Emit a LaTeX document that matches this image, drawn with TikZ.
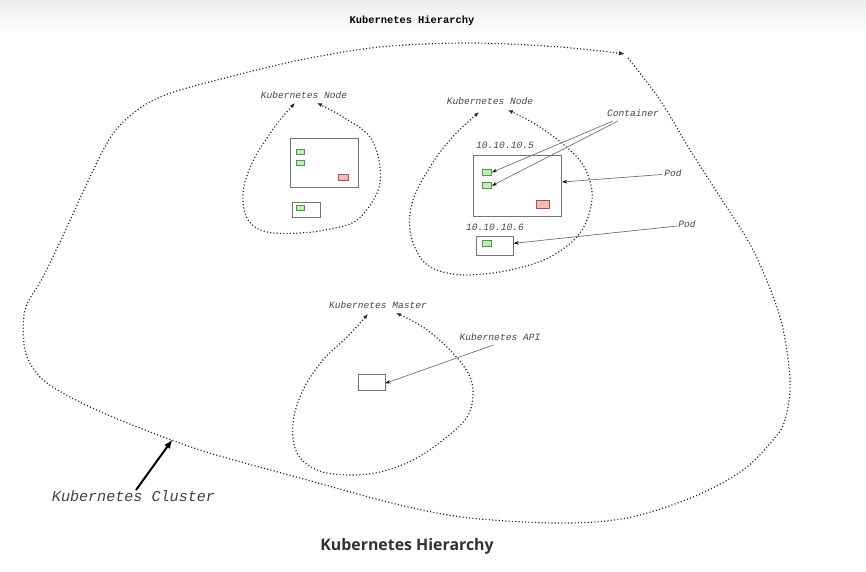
\documentclass[tikz,border=0pt]{standalone}
\usepackage{fontspec}
\setmainfont{Liberation Mono}
\newfontfamily\capfont{Open Sans}
\usetikzlibrary{arrows.meta}
\definecolor{ctrfill}{RGB}{186,240,178}
\definecolor{ctrdraw}{RGB}{90,140,90}
\definecolor{redfill}{RGB}{245,186,186}
\definecolor{reddraw}{RGB}{150,90,90}
\definecolor{capcol}{RGB}{45,50,56}
\begin{document}
\begin{tikzpicture}[x=1pt,y=-1pt,
  lbl/.style={font=\fontsize{9.6}{11}\selectfont\itshape, text=black!72, inner sep=0pt},
  podbox/.style={draw=black!55, line width=0.8pt, inner sep=0pt, fill=white},
  ctr/.style={draw=ctrdraw, fill=ctrfill, line width=0.6pt, inner sep=0pt, minimum width=8.5pt, minimum height=5.6pt},
  ctrred/.style={draw=reddraw, fill=redfill, line width=0.6pt, inner sep=0pt},
  loopline/.style={line width=1.2pt, dash pattern=on 1.1pt off 2.2pt, draw=black!85},
  looptips/.style={{Latex[length=5pt,width=4pt]}-{Latex[length=5pt,width=4pt]}},
  pointer/.style={draw=black!55, line width=0.7pt, -{Stealth[length=5pt,width=3.6pt,color=black]}},
]
\useasboundingbox (0,0) rectangle (866,571);
\shade[top color=black!7, bottom color=white] (0,0) rectangle (866,34);

% titles
\node[font=\fontsize{10.4}{12}\selectfont\bfseries, inner sep=0pt] (title) at (412,21) {Kubernetes Hierarchy};
\node[font=\capfont\fontsize{15.9}{18}\selectfont\bfseries, text=capcol, inner sep=0pt] (caption) at (407,546) {Kubernetes Hierarchy};

% cluster loop
\draw[loopline, -{Latex[length=6pt,width=4.5pt]}] plot[smooth, tension=0.55] coordinates {
 (628,58) (660,100) (690,150) (722,200) (753,250) (780,317) (790,380) (785,420) (773,440) (743,470)
 (693,497) (627,518) (560,523) (470,518) (400,505) (300,478) (200,450) (120,420) (70,397)
 (40,377) (25,350) (25,310) (43,277) (67,227) (90,177) (112,135) (136,111) (165,95) (217,80)
 (300,60) (380,47) (470,43) (560,47) (625,54)};

% node 1
\node[lbl] (n1lbl) at (304,95) {Kubernetes Node};
\draw[loopline, looptips] plot[smooth, tension=0.6] coordinates {
 (295,103) (280,120) (267,138) (252,163) (243,193) (248,220) (267,232) (300,233) (330,229)
 (357,220) (377,193) (380,167) (370,137) (343,117) (317,103)};
\node[podbox, minimum width=68pt, minimum height=49pt] (n1podA) at (324,162.5) {};
\node[podbox, minimum width=28pt, minimum height=15.4pt] (n1podB) at (306.7,210) {};
\node[ctr, minimum width=7.8pt, minimum height=5.4pt] (n1c1) at (300.5,152) {};
\node[ctr, minimum width=7.8pt, minimum height=5.4pt] (n1c2) at (300.5,162.8) {};
\node[ctr, minimum width=7.8pt, minimum height=5.4pt] (n1c3) at (300.4,207.8) {};
\node[ctrred, minimum width=10.4pt, minimum height=6pt] (n1r) at (343.5,177) {};

% node 2
\node[lbl] (n2lbl) at (490,101) {Kubernetes Node};
\draw[loopline, looptips] plot[smooth, tension=0.6] coordinates {
 (479,112) (450,140) (430,167) (413,200) (410,230) (420,257) (437,270) (467,275) (510,270)
 (550,257) (580,233) (592,200) (587,173) (573,153) (540,127) (508,110)};
\node[lbl] (ip1) at (505,145) {10.10.10.5};
\node[lbl] (ip2) at (495,227.5) {10.10.10.6};
\node[podbox, minimum width=88.4pt, minimum height=61pt] (n2podA) at (517.5,185.8) {};
\node[podbox, minimum width=37pt, minimum height=19.7pt] (n2podB) at (494.8,245.9) {};
\node[ctr, minimum width=9.7pt, minimum height=6pt] (n2c1) at (486.8,172.3) {};
\node[ctr, minimum width=9.7pt, minimum height=6pt] (n2c2) at (486.8,185.7) {};
\node[ctr, minimum width=9.7pt, minimum height=6pt] (n2c3) at (486.8,243.5) {};
\node[ctrred, minimum width=13pt, minimum height=8pt] (n2r) at (542.8,204) {};

\node[lbl] (contlbl) at (633,113) {Container};
\node[lbl] (pod1lbl) at (673,173) {Pod};
\node[lbl] (pod2lbl) at (687,224) {Pod};
\coordinate (contA) at (613,121);
\coordinate (contB) at (618,121);
\coordinate (pod1src) at (662,174.5);
\coordinate (pod2src) at (677.5,226);
\draw[pointer] (contA) -- (n2c1.east);
\draw[pointer] (contB) -- (n2c2.east);
\draw[pointer] (pod1src) -- (n2podA.east |- 0,182);
\draw[pointer] (pod2src) -- (n2podB.east |- 0,243.3);

% master
\node[lbl] (mlbl) at (378,305) {Kubernetes Master};
\draw[loopline, looptips] plot[smooth, tension=0.6] coordinates {
 (368,314) (347,337) (323,360) (303,390) (293,423) (297,453) (317,470) (347,475) (380,472)
 (413,460) (443,440) (467,417) (473,393) (468,373) (450,350) (423,327) (396,313)};
\node[podbox, minimum width=26.7pt, minimum height=16.7pt] (api) at (371.7,382.3) {};
\node[lbl] (apilbl) at (500,337) {Kubernetes API};
\coordinate (apisrc) at (493.3,345);
\draw[pointer] (apisrc) -- (api.east |- 0,383.3);

% cluster label
\node[font=\fontsize{15.1}{18}\selectfont\itshape, text=black!75, inner sep=0pt] (clusterlbl) at (133.5,496) {Kubernetes Cluster};
\coordinate (clustertail) at (136,490);
\coordinate (clustertip) at (172.5,439.5);
\draw[line width=2pt, -{Latex[length=9pt,width=7pt]}] (clustertail) -- (clustertip);
\end{tikzpicture}
\end{document}
